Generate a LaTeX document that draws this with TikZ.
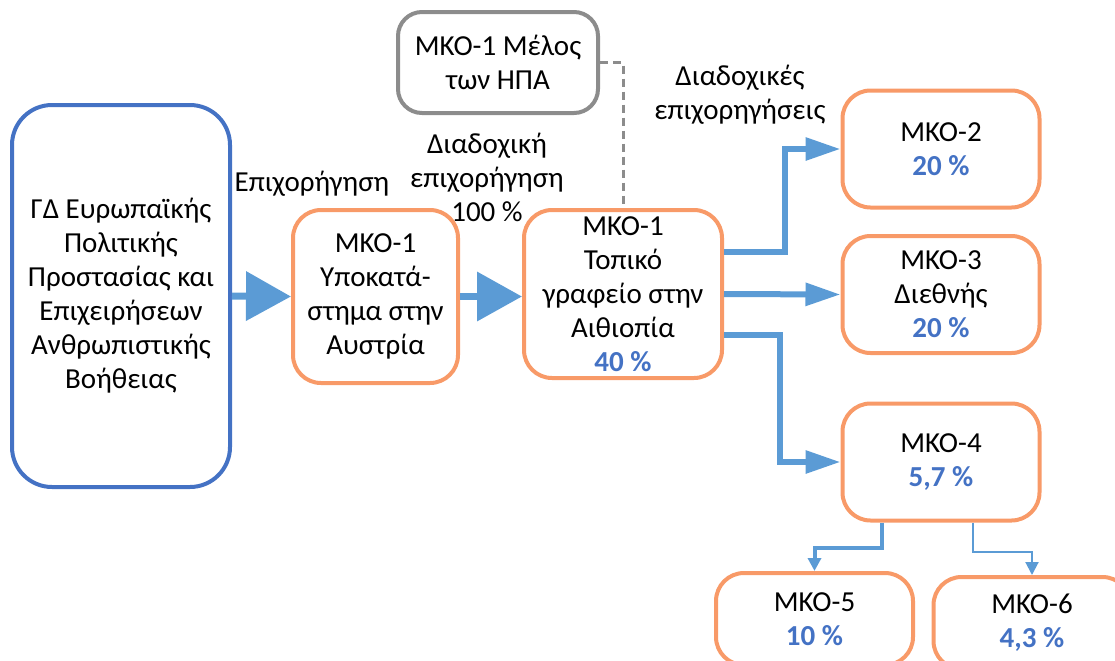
\documentclass[tikz,border=0pt]{standalone}
\usepackage{fontspec}
\setmainfont{Carlito}
\usetikzlibrary{arrows.meta}
\definecolor{boxblue}{RGB}{68,114,196}
\definecolor{arrowblue}{RGB}{91,155,213}
\definecolor{ngoorange}{RGB}{248,154,104}
\definecolor{usagrey}{RGB}{140,140,140}
\newcommand{\pct}[1]{\textcolor{boxblue}{\textbf{#1}}}
\begin{document}
\begin{tikzpicture}[x=0.5pt,y=-0.5pt,
  font=\fontsize{14.5}{17}\selectfont,
  box/.style={draw,rounded corners=14pt,line width=2pt,align=center,inner sep=0pt},
  ngo/.style={box,draw=ngoorange,minimum width=98.5pt,minimum height=58.5pt},
  bigarrow/.style={arrowblue,line width=3.5pt,-{Triangle[length=22.5pt,width=24pt]}},
  midarrow/.style={arrowblue,line width=3pt,-{Triangle[length=17.5pt,width=11pt]}},
  smallarrow/.style={arrowblue,-{Triangle[length=6.5pt,width=6.5pt]}}]
\useasboundingbox (0,0) rectangle (1115,660);
\node[box,draw=boxblue,minimum width=109pt,minimum height=191pt,rounded corners=20pt] (dg) at (121,296) {ΓΔ Ευρωπαϊκής\\Πολιτικής\\Προστασίας και\\Επιχειρήσεων\\Ανθρωπιστικής\\Βοήθειας};
\node[box,draw=ngoorange,minimum width=82.5pt,minimum height=86.5pt] (aut) at (375.5,296.5) {ΜΚΟ-1\\Υποκατά-\\στημα στην\\Αυστρία};
\node[box,draw=ngoorange,minimum width=99pt,minimum height=84pt] (eth) at (623,294) {ΜΚΟ-1\\Τοπικό\\γραφείο στην\\Αιθιοπία\\\pct{40 \%}};
\node[box,draw=usagrey,minimum width=100pt,minimum height=50.5pt,rounded corners=12pt] (usa) at (498,62.5) {ΜΚΟ-1 Μέλος\\των ΗΠΑ};
\node[ngo] (m2) at (941,149) {ΜΚΟ-2\\\pct{20 \%}};
\node[ngo] (m3) at (941,294.5) {ΜΚΟ-3\\Διεθνής\\\pct{20 \%}};
\node[ngo] (m4) at (941,462) {ΜΚΟ-4\\\pct{5,7 \%}};
\node[ngo,minimum height=46pt] (m5) at (814.5,619) {ΜΚΟ-5\\\pct{10 \%}};
\node[ngo,minimum height=46pt] (m6) at (1032,623) {ΜΚΟ-6\\\pct{4,3 \%}};
\node (grant) at (312,184) {Επιχορήγηση};
\node[align=center] (subgrant) at (487,177) {Διαδοχική\\επιχορήγηση\\100 \%};
\node[align=center] (subgrants) at (740,95) {Διαδοχικές\\επιχορηγήσεις};
\draw[bigarrow] (dg.east) -- (aut.west);
\draw[bigarrow] (aut.east) -- (aut.east -| eth.west);
\draw[midarrow] ([yshift=21pt]eth.east) -- ++(61,0) |- (m2.west);
\draw[midarrow] (eth.east) -- (m3.west);
\draw[midarrow] ([yshift=-20.5pt]eth.east) -- ++(56,0) |- (m4.west);
\draw[smallarrow,line width=2pt] ([xshift=-29.5pt]m4.south) -- ++(0,25) -| (m5.north);
\draw[smallarrow,line width=1pt] ([xshift=16pt]m4.south) -- ++(0,29) -| (m6.north);
\draw[usagrey,dashed,dash pattern=on 4pt off 2.5pt,line width=1.5pt] (usa.east) -| (eth.north);
\end{tikzpicture}
\end{document}
